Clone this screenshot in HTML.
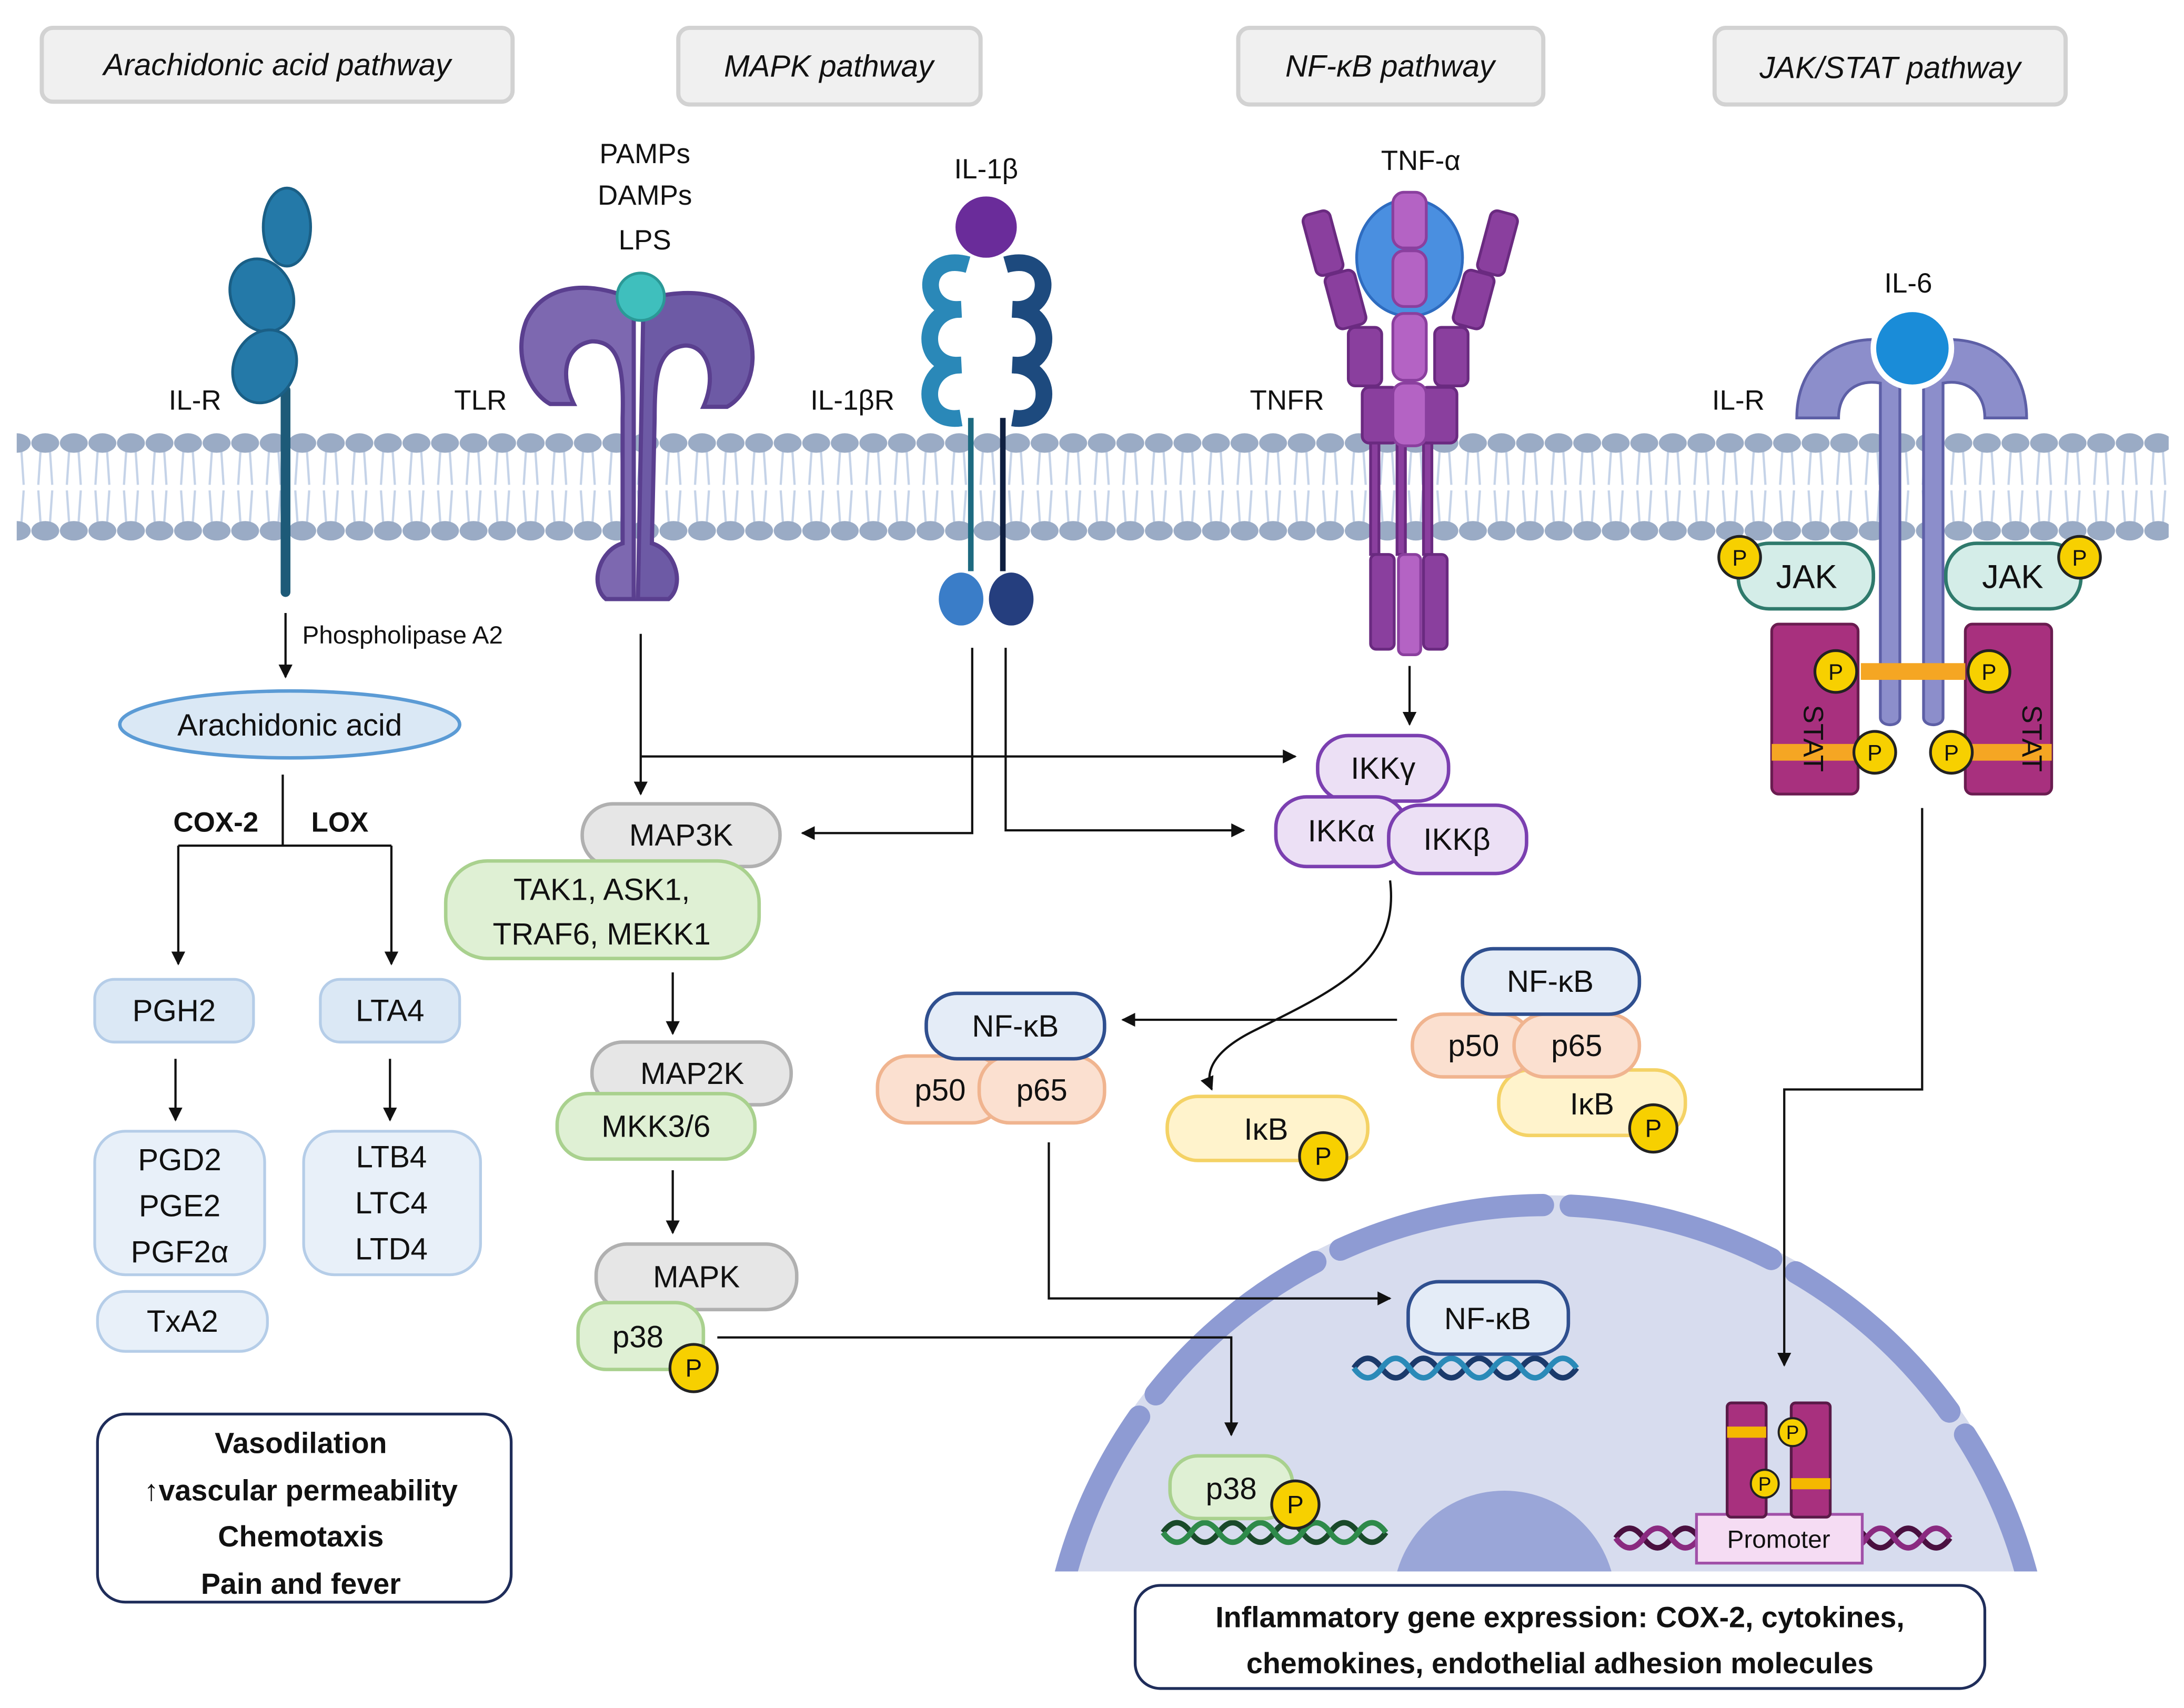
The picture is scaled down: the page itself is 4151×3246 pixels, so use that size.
<!DOCTYPE html>
<html><head><meta charset="utf-8"><style>
html,body{margin:0;padding:0;background:#fff;width:4151px;height:3246px;overflow:hidden;}
svg{display:block;}
text{font-family:"Liberation Sans",sans-serif;fill:#111;}
</style></head><body>
<svg width="4151" height="3246" viewBox="0 0 1568 1226" preserveAspectRatio="none" xmlns="http://www.w3.org/2000/svg">
<defs>
<marker id="ar" markerWidth="10" markerHeight="10" refX="9" refY="5" orient="auto" markerUnits="userSpaceOnUse"><path d="M0,0 L10,5 L0,10 z" fill="#111"/></marker>
<pattern id="lip" x="2" y="0" width="20.5" height="1226" patternUnits="userSpaceOnUse">
<path d="M7,318 L5,348 M13,318 L15,348 M5,352 L7,381 M15,352 L13,381" stroke="#c5d3e8" stroke-width="1.6" fill="none"/>
<ellipse cx="10" cy="318" rx="10" ry="7" fill="#9aabc5"/>
<ellipse cx="10" cy="381" rx="10" ry="7" fill="#9aabc5"/>
</pattern>
<clipPath id="nc"><rect x="0" y="0" width="1568" height="1128"/></clipPath>
</defs>

<g font-style="italic" font-size="22">
<rect x="30" y="20" width="338" height="53" rx="8" fill="#f0f0f0" stroke="#d2d2d2" stroke-width="3"/><text x="199" y="54" text-anchor="middle">Arachidonic acid pathway</text>
<rect x="487" y="20" width="217" height="55" rx="8" fill="#f0f0f0" stroke="#d2d2d2" stroke-width="3"/><text x="595" y="55" text-anchor="middle">MAPK pathway</text>
<rect x="889" y="20" width="219" height="55" rx="8" fill="#f0f0f0" stroke="#d2d2d2" stroke-width="3"/><text x="998" y="55" text-anchor="middle">NF-κB pathway</text>
<rect x="1231" y="20" width="252" height="55" rx="8" fill="#f0f0f0" stroke="#d2d2d2" stroke-width="3"/><text x="1357" y="56" text-anchor="middle">JAK/STAT pathway</text>
</g>

<rect x="12" y="308" width="1545" height="82" fill="url(#lip)"/>

<g clip-path="url(#nc)">
<circle cx="1110" cy="1222" r="364" fill="#d7dcee"/>
<circle cx="1110" cy="1222" r="357" fill="none" stroke="#8e9bd3" stroke-width="16" stroke-dasharray="150 20" stroke-linecap="round"/>
<circle cx="1080" cy="1150" r="80" fill="#9aa6d8"/>
</g>

<g font-size="20">
<text x="140" y="294" text-anchor="middle">IL-R</text>
<text x="345" y="294" text-anchor="middle">TLR</text>
<text x="612" y="294" text-anchor="middle">IL-1βR</text>
<text x="924" y="294" text-anchor="middle">TNFR</text>
<text x="1248" y="294" text-anchor="middle">IL-R</text>
<text x="463" y="117" text-anchor="middle">PAMPs</text>
<text x="463" y="147" text-anchor="middle">DAMPs</text>
<text x="463" y="179" text-anchor="middle">LPS</text>
<text x="708" y="128" text-anchor="middle">IL-1β</text>
<text x="1020" y="122" text-anchor="middle">TNF-α</text>
<text x="1370" y="210" text-anchor="middle">IL-6</text>
</g>

<line x1="205" y1="280" x2="205" y2="425" stroke="#1d5a78" stroke-width="7" stroke-linecap="round"/>
<ellipse cx="206" cy="163" rx="17" ry="28" fill="#2479a8" stroke="#1a5f86" stroke-width="2"/>
<ellipse cx="188" cy="212" rx="22" ry="27" fill="#2479a8" stroke="#1a5f86" stroke-width="2" transform="rotate(-25 188 212)"/>
<ellipse cx="190" cy="263" rx="22" ry="27" fill="#2479a8" stroke="#1a5f86" stroke-width="2" transform="rotate(25 190 263)"/>

<g fill="#7d68b0" stroke="#5a3f8f" stroke-width="3">
<path d="M455,215 C420,200 390,205 378,230 C368,255 380,282 395,290 L412,290 C402,270 405,248 425,245 C445,245 448,265 447,300 L447,390 C430,395 423,420 435,430 L455,430 Z"/>
<path d="M462,215 C500,205 530,210 538,240 C545,265 535,285 522,292 L505,292 C515,270 508,248 492,248 C472,250 470,270 470,300 L468,390 C485,395 492,420 480,430 L458,430 Z" fill="#6d5aa5"/>
</g>
<circle cx="460" cy="213" r="17" fill="#3fbfbd" stroke="#2b9997" stroke-width="2"/>

<g fill="none" stroke-width="12">
<path d="M695,190 C660,180 660,225 690,222 C660,222 660,265 690,262 C660,262 660,305 690,300" stroke="#2a88b8"/>
<path d="M722,190 C757,180 757,225 727,222 C757,222 757,265 727,262 C757,262 757,305 727,300" stroke="#1d4a7e"/>
</g>
<line x1="697" y1="300" x2="697" y2="410" stroke="#1d6a80" stroke-width="4"/>
<line x1="720" y1="300" x2="720" y2="410" stroke="#0f1f40" stroke-width="4"/>
<ellipse cx="690" cy="430" rx="16" ry="19" fill="#3a7dc8"/>
<ellipse cx="726" cy="430" rx="16" ry="19" fill="#253e7e"/>
<circle cx="708" cy="163" r="22" fill="#6a2c9a"/>

<g fill="#8a3f9e" stroke="#6a2a80" stroke-width="2">
<rect x="940" y="152" width="20" height="45" rx="5" transform="rotate(-15 950 175)"/>
<rect x="1065" y="152" width="20" height="45" rx="5" transform="rotate(15 1075 175)"/>
<rect x="955" y="195" width="22" height="40" rx="5" transform="rotate(-15 966 215)"/>
<rect x="1047" y="195" width="22" height="40" rx="5" transform="rotate(15 1058 215)"/>
<rect x="968" y="235" width="24" height="42" rx="5"/><rect x="1030" y="235" width="24" height="42" rx="5"/>
<rect x="978" y="278" width="26" height="40" rx="5"/><rect x="1020" y="278" width="26" height="40" rx="5"/>
<rect x="984" y="318" width="6" height="80"/><rect x="1003" y="318" width="6" height="80"/><rect x="1022" y="318" width="6" height="80"/>
<rect x="984" y="398" width="17" height="68" rx="4"/><rect x="1022" y="398" width="17" height="68" rx="4"/>
</g>
<ellipse cx="1012" cy="185" rx="38" ry="42" fill="#4a8fe0" stroke="#2e6cc0" stroke-width="2"/>
<g fill="#b463c4" stroke="#8a3f9e" stroke-width="2">
<rect x="1000" y="138" width="24" height="40" rx="8"/><rect x="1000" y="180" width="24" height="40" rx="8"/><rect x="1000" y="225" width="24" height="48" rx="8"/><rect x="1000" y="275" width="24" height="45" rx="8"/><rect x="1004" y="398" width="16" height="72" rx="4"/>
</g>

<g fill="#8c8ecb" stroke="#5d5fa6" stroke-width="2">
<path d="M1360,245 C1320,238 1290,260 1290,300 L1320,300 C1320,280 1335,272 1350,275 L1350,515 C1350,522 1364,522 1364,515 L1364,262 Z"/>
<path d="M1385,245 C1425,238 1455,260 1455,300 L1425,300 C1425,280 1410,272 1395,275 L1395,515 C1395,522 1381,522 1381,515 L1381,262 Z"/>
</g>
<circle cx="1373" cy="250" r="28" fill="#1a8cd8" stroke="#fff" stroke-width="4"/>
<rect x="1248" y="390" width="97" height="47" rx="22" fill="#d4ede8" stroke="#2f7a6c" stroke-width="2.5"/><text x="1297" y="422" font-size="24" text-anchor="middle">JAK</text>
<rect x="1397" y="390" width="97" height="47" rx="22" fill="#d4ede8" stroke="#2f7a6c" stroke-width="2.5"/><text x="1445" y="422" font-size="24" text-anchor="middle">JAK</text>
<rect x="1272" y="448" width="62" height="122" rx="5" fill="#a8307e" stroke="#6a1c50" stroke-width="2"/>
<rect x="1411" y="448" width="62" height="122" rx="5" fill="#a8307e" stroke="#6a1c50" stroke-width="2"/>
<rect x="1336" y="476" width="75" height="12" fill="#f5a623"/>
<rect x="1272" y="534" width="62" height="12" fill="#f5a623"/><rect x="1411" y="534" width="62" height="12" fill="#f5a623"/>
<text x="1295" y="530" font-size="20" transform="rotate(90 1295 530)" text-anchor="middle" fill="#fff">STAT</text>
<text x="1452" y="530" font-size="20" transform="rotate(90 1452 530)" text-anchor="middle" fill="#fff">STAT</text>

<g font-size="16" text-anchor="middle">
<g fill="#f7d000" stroke="#222" stroke-width="2">
<circle cx="1249" cy="400" r="15"/><circle cx="1493" cy="400" r="15"/>
<circle cx="1318" cy="482" r="15"/><circle cx="1428" cy="482" r="15"/>
<circle cx="1346" cy="540" r="15"/><circle cx="1401" cy="540" r="15"/>
</g>
<text x="1249" y="406">P</text><text x="1493" y="406">P</text><text x="1318" y="488">P</text><text x="1428" y="488">P</text><text x="1346" y="546">P</text><text x="1401" y="546">P</text>
</g>

<g stroke="#111" stroke-width="1.6" fill="none">
<line x1="205" y1="440" x2="205" y2="486" marker-end="url(#ar)"/>
<line x1="203" y1="556" x2="203" y2="607"/>
<line x1="128" y1="607" x2="281" y2="607"/>
<line x1="128" y1="607" x2="128" y2="692" marker-end="url(#ar)"/>
<line x1="281" y1="607" x2="281" y2="692" marker-end="url(#ar)"/>
<line x1="126" y1="760" x2="126" y2="804" marker-end="url(#ar)"/>
<line x1="280" y1="760" x2="280" y2="804" marker-end="url(#ar)"/>
</g>
<text x="217" y="462" font-size="18">Phospholipase A2</text>
<ellipse cx="208" cy="520" rx="122" ry="24" fill="#dae8f5" stroke="#5b9bd5" stroke-width="2.5"/>
<text x="208" y="528" font-size="22" text-anchor="middle">Arachidonic acid</text>
<text x="155" y="597" font-size="20" font-weight="bold" text-anchor="middle">COX-2</text>
<text x="244" y="597" font-size="20" font-weight="bold" text-anchor="middle">LOX</text>
<g fill="#dbe8f5" stroke="#b5cde8" stroke-width="2">
<rect x="68" y="703" width="114" height="45" rx="14"/><rect x="230" y="703" width="100" height="45" rx="14"/>
<rect x="68" y="812" width="122" height="103" rx="22" fill="#e8f0f9"/><rect x="218" y="812" width="127" height="103" rx="22" fill="#e8f0f9"/>
<rect x="70" y="927" width="122" height="43" rx="20" fill="#e8f0f9"/>
</g>
<g font-size="22" text-anchor="middle">
<text x="125" y="733">PGH2</text><text x="280" y="733">LTA4</text>
<text x="129" y="840">PGD2</text><text x="129" y="873">PGE2</text><text x="129" y="906">PGF2α</text>
<text x="281" y="838">LTB4</text><text x="281" y="871">LTC4</text><text x="281" y="904">LTD4</text>
<text x="131" y="956">TxA2</text>
</g>
<rect x="70" y="1015" width="297" height="135" rx="20" fill="#fff" stroke="#1f2d5a" stroke-width="2"/>
<g font-size="21" font-weight="bold" text-anchor="middle">
<text x="216" y="1043">Vasodilation</text><text x="216" y="1077">↑vascular permeability</text><text x="216" y="1110">Chemotaxis</text><text x="216" y="1144">Pain and fever</text>
</g>

<g stroke="#111" stroke-width="1.6" fill="none">
<line x1="460" y1="455" x2="460" y2="570" marker-end="url(#ar)"/>
<line x1="460" y1="543" x2="930" y2="543" marker-end="url(#ar)"/>
<polyline points="698,465 698,598 576,598" marker-end="url(#ar)"/>
<polyline points="722,465 722,596 893,596" marker-end="url(#ar)"/>
<line x1="483" y1="698" x2="483" y2="742" marker-end="url(#ar)"/>
<line x1="483" y1="840" x2="483" y2="885" marker-end="url(#ar)"/>
<polyline points="515,960 884,960 884,1030" marker-end="url(#ar)"/>
<line x1="1012" y1="478" x2="1012" y2="520" marker-end="url(#ar)"/>
<path d="M998,632 C1005,690 960,710 900,740 C870,755 865,770 870,782" marker-end="url(#ar)"/>
<line x1="1003" y1="732" x2="806" y2="732" marker-end="url(#ar)"/>
<polyline points="753,820 753,932 998,932" marker-end="url(#ar)"/>
<polyline points="1380,580 1380,782 1281,782 1281,980" marker-end="url(#ar)"/>
</g>
<g stroke-width="2.5">
<rect x="418" y="577" width="142" height="45" rx="22" fill="#e6e6e6" stroke="#b0b0b0"/>
<rect x="320" y="618" width="225" height="70" rx="30" fill="#dff0d4" stroke="#a9d18e"/>
<rect x="425" y="748" width="143" height="45" rx="22" fill="#e6e6e6" stroke="#b0b0b0"/>
<rect x="400" y="785" width="142" height="47" rx="22" fill="#dff0d4" stroke="#a9d18e"/>
<rect x="428" y="893" width="144" height="47" rx="22" fill="#e6e6e6" stroke="#b0b0b0"/>
<rect x="415" y="935" width="90" height="48" rx="20" fill="#dff0d4" stroke="#a9d18e"/>
</g>
<g font-size="22" text-anchor="middle">
<text x="489" y="607">MAP3K</text><text x="432" y="646">TAK1, ASK1,</text><text x="432" y="678">TRAF6, MEKK1</text>
<text x="497" y="778">MAP2K</text><text x="471" y="816">MKK3/6</text><text x="500" y="924">MAPK</text><text x="458" y="967">p38</text>
</g>

<g stroke-width="2.5">
<rect x="946" y="528" width="94" height="47" rx="22" fill="#ece0f5" stroke="#7b3fb0"/>
<rect x="916" y="572" width="94" height="50" rx="22" fill="#ece0f5" stroke="#7b3fb0"/>
<rect x="997" y="578" width="99" height="49" rx="22" fill="#ece0f5" stroke="#7b3fb0"/>
<rect x="630" y="758" width="90" height="48" rx="22" fill="#fbe0d0" stroke="#f0b48f"/>
<rect x="703" y="758" width="90" height="48" rx="22" fill="#fbe0d0" stroke="#f0b48f"/>
<rect x="665" y="713" width="128" height="47" rx="22" fill="#e4ecf7" stroke="#2f4f8f"/>
<rect x="1076" y="768" width="134" height="47" rx="22" fill="#fff3cc" stroke="#f4d265"/>
<rect x="1014" y="728" width="86" height="45" rx="22" fill="#fbe0d0" stroke="#f0b48f"/>
<rect x="1087" y="728" width="90" height="45" rx="22" fill="#fbe0d0" stroke="#f0b48f"/>
<rect x="1050" y="681" width="127" height="47" rx="22" fill="#e4ecf7" stroke="#2f4f8f"/>
<rect x="838" y="787" width="144" height="46" rx="22" fill="#fff3cc" stroke="#f4d265"/>
</g>
<g font-size="22" text-anchor="middle">
<text x="993" y="559">IKKγ</text><text x="963" y="604">IKKα</text><text x="1046" y="610">IKKβ</text>
<text x="729" y="744">NF-κB</text><text x="675" y="790">p50</text><text x="748" y="790">p65</text>
<text x="1113" y="712">NF-κB</text><text x="1058" y="758">p50</text><text x="1132" y="758">p65</text><text x="1143" y="800">IκB</text>
<text x="909" y="818">IκB</text>
</g>

<g fill="none" stroke-width="4">
<path d="M972,982 q10,-14 20,0 t20,0 t20,0 t20,0 t20,0 t20,0 t20,0 t20,0" stroke="#1b3a6b"/>
<path d="M972,982 q10,14 20,0 t20,0 t20,0 t20,0 t20,0 t20,0 t20,0 t20,0" stroke="#2a8ab8"/>
<path d="M835,1100 q10,-14 20,0 t20,0 t20,0 t20,0 t20,0 t20,0 t20,0 t20,0" stroke="#1a4a2a"/>
<path d="M835,1100 q10,14 20,0 t20,0 t20,0 t20,0 t20,0 t20,0 t20,0 t20,0" stroke="#2e8a4a"/>
<path d="M1160,1104 q10,-14 20,0 t20,0 t20,0 t20,0 t20,0 t20,0 t20,0 t20,0 t20,0 t20,0 t20,0 t20,0" stroke="#4a1040"/>
<path d="M1160,1104 q10,14 20,0 t20,0 t20,0 t20,0 t20,0 t20,0 t20,0 t20,0 t20,0 t20,0 t20,0 t20,0" stroke="#8a2a80"/>
</g>
<rect x="1011" y="920" width="115" height="52" rx="22" fill="#e4ecf7" stroke="#2f4f8f" stroke-width="2.5"/>
<text x="1068" y="954" font-size="22" text-anchor="middle">NF-κB</text>
<rect x="840" y="1045" width="88" height="45" rx="20" fill="#dff0d4" stroke="#a9d18e" stroke-width="2.5"/>
<text x="884" y="1076" font-size="22" text-anchor="middle">p38</text>
<rect x="1218" y="1087" width="119" height="35" fill="#f5dcf3" stroke="#a050a8" stroke-width="2"/>
<text x="1277" y="1111" font-size="18" text-anchor="middle">Promoter</text>
<rect x="1240" y="1007" width="28" height="82" rx="3" fill="#a8307e" stroke="#5a1a48" stroke-width="2"/>
<rect x="1286" y="1007" width="28" height="82" rx="3" fill="#a8307e" stroke="#5a1a48" stroke-width="2"/>
<rect x="1240" y="1024" width="28" height="8" fill="#f5b800"/><rect x="1286" y="1061" width="28" height="8" fill="#f5b800"/>
<g font-size="14" text-anchor="middle">
<g fill="#f7d000" stroke="#222" stroke-width="1.5"><circle cx="1287" cy="1028" r="10"/><circle cx="1267" cy="1065" r="10"/></g>
<text x="1287" y="1033">P</text><text x="1267" y="1070">P</text>
</g>

<g font-size="18" text-anchor="middle">
<g fill="#f7d000" stroke="#222" stroke-width="2">
<circle cx="498" cy="982" r="17"/><circle cx="930" cy="1080" r="17"/><circle cx="950" cy="830" r="17"/><circle cx="1187" cy="810" r="17"/>
</g>
<text x="498" y="988">P</text><text x="930" y="1086">P</text><text x="950" y="836">P</text><text x="1187" y="816">P</text>
</g>

<rect x="815" y="1138" width="610" height="74" rx="18" fill="#fff" stroke="#1f2d5a" stroke-width="2"/>
<g font-size="21" font-weight="bold" text-anchor="middle">
<text x="1120" y="1168">Inflammatory gene expression: COX-2, cytokines,</text>
<text x="1120" y="1201">chemokines, endothelial adhesion molecules</text>
</g>
</svg>
</body></html>
